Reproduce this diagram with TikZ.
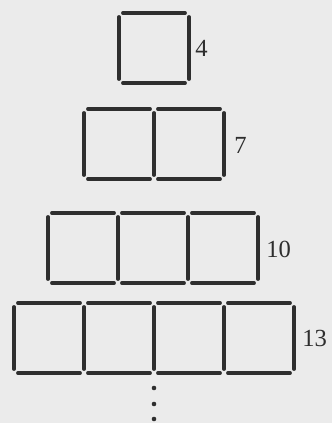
\documentclass[tikz,border=0pt]{standalone}
\usepackage{fontspec}
\setmainfont{Liberation Serif}
\definecolor{paper}{HTML}{EBEBEB}
\definecolor{stickgray}{HTML}{2E2E2E}
\tikzstyle{stick} = [draw=stickgray, line width=2.2pt, line cap=round]
\tikzstyle{count} = [anchor=west, inner sep=0pt, font=\fontsize{14}{16}\selectfont, text=stickgray]
\tikzstyle{dot} = [fill=stickgray]

\begin{document}
\begin{tikzpicture}[x=0.02cm, y=-0.02cm]
\fill[paper] (0,0) rectangle (332,423);
\useasboundingbox (0,0) rectangle (332,423);
%begin row 1
\foreach \i in {0} {
    \draw[stick] (119+70*\i+4,13) -- (119+70*\i+66,13);
    \draw[stick] (119+70*\i+4,83) -- (119+70*\i+66,83);
}
\foreach \i in {0,1} {
    \draw[stick] (119+70*\i,17) -- (119+70*\i,79);
}
\node[count] (n4) at (195,48) {4};
%end row 1
%begin row 2
\foreach \i in {0,1} {
    \draw[stick] (84+70*\i+4,109) -- (84+70*\i+66,109);
    \draw[stick] (84+70*\i+4,179) -- (84+70*\i+66,179);
}
\foreach \i in {0,1,2} {
    \draw[stick] (84+70*\i,113) -- (84+70*\i,175);
}
\node[count] (n7) at (234,145) {7};
%end row 2
%begin row 3
\foreach \i in {0,1,2} {
    \draw[stick] (48+70*\i+4,213) -- (48+70*\i+66,213);
    \draw[stick] (48+70*\i+4,283) -- (48+70*\i+66,283);
}
\foreach \i in {0,1,2,3} {
    \draw[stick] (48+70*\i,217) -- (48+70*\i,279);
}
\node[count] (n10) at (266,249) {10};
%end row 3
%begin row 4
\foreach \i in {0,1,2,3} {
    \draw[stick] (14+70*\i+4,303) -- (14+70*\i+66,303);
    \draw[stick] (14+70*\i+4,373) -- (14+70*\i+66,373);
}
\foreach \i in {0,1,2,3,4} {
    \draw[stick] (14+70*\i,307) -- (14+70*\i,369);
}
\node[count] (n13) at (302,338) {13};
%end row 4
%begin dots
\foreach \y in {388,404,419} {
    \fill[dot] (154,\y) circle (2.3);
}
%end dots
\end{tikzpicture}
\end{document}
